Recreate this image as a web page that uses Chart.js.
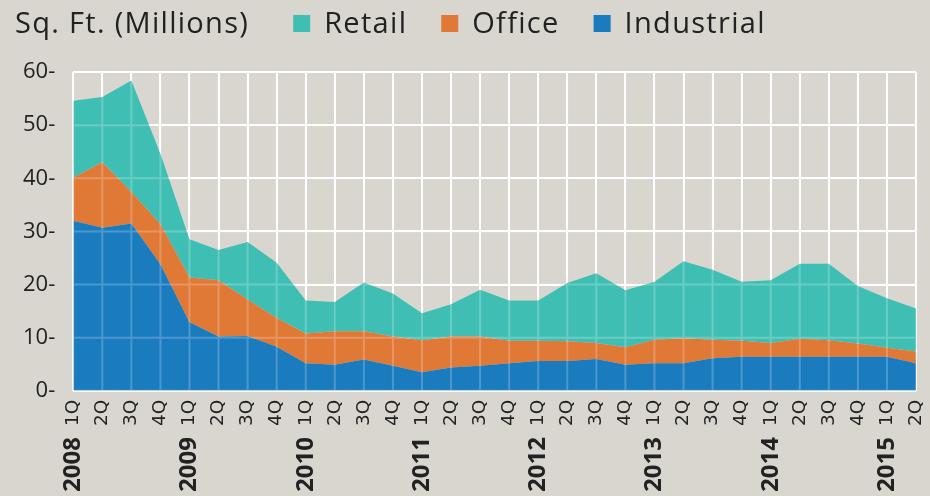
<!DOCTYPE html>
<html lang="en">
<head>
<meta charset="UTF-8">
<title>Sq. Ft. (Millions)</title>
<script src="https://cdn.jsdelivr.net/npm/chart.js"></script>
<style>
    body {
        margin: 0;
        background: #d8d6ce;
    }
    #chartContainer {
        width: 930px;
        height: 496px;
    }
</style>
</head>
<body>
<div id="chartContainer"><canvas id="spaceChart"></canvas></div>
<script>
const quarters = ['1Q','2Q','3Q','4Q','1Q','2Q','3Q','4Q','1Q','2Q','3Q','4Q','1Q','2Q','3Q','4Q',
                  '1Q','2Q','3Q','4Q','1Q','2Q','3Q','4Q','1Q','2Q','3Q','4Q','1Q','2Q'];
const yearLabels = ['2008','','','','2009','','','','2010','','','','2011','','','',
                    '2012','','','','2013','','','','2014','','','','2015',''];
const industrial = [32.0,30.7,31.5,23.8,12.9,10.2,10.3,8.3,5.2,4.9,5.9,4.7,3.5,4.4,4.7,
                    5.2,5.6,5.6,6.0,4.9,5.2,5.2,6.1,6.4,6.4,6.4,6.4,6.4,6.4,5.2];
const office = [8.1,12.3,5.9,7.6,8.4,10.6,6.9,5.4,5.6,6.3,5.3,5.5,6.0,5.8,5.5,
                4.2,3.8,3.7,3.0,3.3,4.4,4.7,3.5,3.0,2.6,3.4,3.1,2.5,1.7,2.2];
const retail = [14.5,12.3,21.0,13.2,7.2,5.7,10.8,10.4,6.2,5.5,9.2,8.1,5.1,6.1,8.8,
                7.6,7.6,11.0,13.1,10.7,10.9,14.5,13.2,11.1,11.8,14.1,14.4,10.8,9.3,8.1];

const TEXT = '#222222';

// faint grid lines over the filled areas, like the original
const gridOverlay = {
    id: 'gridOverlay',
    afterDatasetsDraw(chart) {
        const {ctx, chartArea, scales} = chart;
        ctx.save();
        ctx.strokeStyle = 'rgba(255,255,255,0.22)';
        ctx.lineWidth = 2;
        ctx.beginPath();
        scales.y.ticks.forEach((t, i) => {
            const y = scales.y.getPixelForTick(i);
            ctx.moveTo(chartArea.left, y);
            ctx.lineTo(chartArea.right, y);
        });
        scales.x.ticks.forEach((t, i) => {
            const x = scales.x.getPixelForTick(i);
            ctx.moveTo(x, chartArea.top);
            ctx.lineTo(x, chartArea.bottom);
        });
        ctx.stroke();
        ctx.restore();
    }
};

// header: unit title + legend in one row
const header = {
    id: 'header',
    afterDraw(chart) {
        const ctx = chart.ctx;
        ctx.save();
        ctx.font = '29px "Open Sans"';
        ctx.letterSpacing = '1.3px';
        ctx.fillStyle = TEXT;
        ctx.textBaseline = 'alphabetic';
        const baseY = 33;
        let x = 15;
        ctx.fillText('Sq. Ft. (Millions)', x, baseY);
        x += ctx.measureText('Sq. Ft. (Millions)').width + 44;
        const items = chart.data.datasets.slice().reverse();
        items.forEach(ds => {
            ctx.fillStyle = ds.backgroundColor;
            ctx.fillRect(x, 15, 17, 17);
            x += 17 + 14;
            ctx.fillStyle = TEXT;
            ctx.fillText(ds.label, x, baseY);
            x += ctx.measureText(ds.label).width + 34;
        });
        ctx.restore();
    }
};

// rotated labels make Chart.js reserve side room; the original has none
const noSidePadding = scale => {
    scale.paddingLeft = 0;
    scale.paddingRight = 0;
};

const ctx = document.getElementById('spaceChart').getContext('2d');
const spaceChart = new Chart(ctx, {
    type: 'line',
    data: {
        labels: quarters,
        datasets: [
            { label: 'Industrial', data: industrial, backgroundColor: '#1a7bbf', fill: 'origin' },
            { label: 'Office', data: office, backgroundColor: '#e07836', fill: '-1' },
            { label: 'Retail', data: retail, backgroundColor: '#3fbfb3', fill: '-1' }
        ]
    },
    options: {
        responsive: true,
        maintainAspectRatio: false,
        animation: false,
        layout: { padding: { top: 72, left: 5, right: 14, bottom: 2 } },
        elements: {
            line: { borderWidth: 0, tension: 0 },
            point: { radius: 0 }
        },
        plugins: {
            legend: { display: false },
            tooltip: { enabled: false }
        },
        scales: {
            y: {
                stacked: true,
                min: 0,
                max: 60,
                ticks: {
                    stepSize: 10,
                    padding: 18,
                    color: TEXT,
                    font: { family: 'Open Sans', size: 22 },
                    callback: v => v + '-'
                },
                grid: { color: '#ffffff', lineWidth: 2, drawTicks: false },
                border: { display: false }
            },
            x: {
                weight: 0,
                afterFit: noSidePadding,
                ticks: {
                    autoSkip: false,
                    minRotation: 90,
                    maxRotation: 90,
                    padding: 9,
                    color: TEXT,
                    font: { family: 'DejaVu Sans', size: 18.5 }
                },
                grid: { color: '#ffffff', lineWidth: 2, drawTicks: false },
                border: { display: false }
            },
            x2: {
                type: 'category',
                position: 'bottom',
                weight: 1,
                labels: yearLabels,
                afterFit: noSidePadding,
                ticks: {
                    autoSkip: false,
                    minRotation: 90,
                    maxRotation: 90,
                    padding: 2,
                    color: TEXT,
                    font: { family: 'Open Sans', size: 24, weight: 'bold' }
                },
                grid: { display: false, drawTicks: false },
                border: { display: false }
            }
        }
    },
    plugins: [gridOverlay, header]
});
</script>
</body>
</html>
